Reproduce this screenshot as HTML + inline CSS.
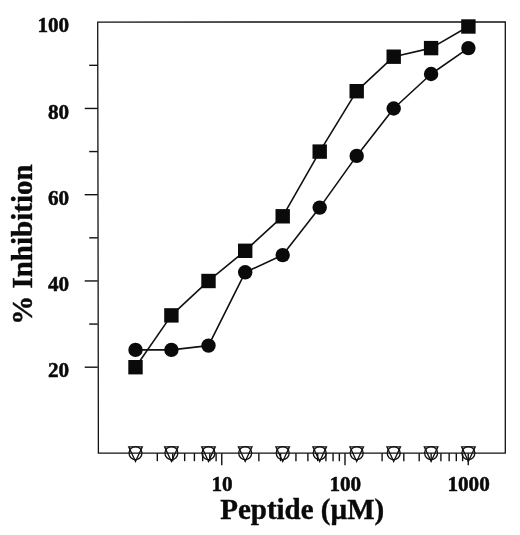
<!DOCTYPE html><html><head><meta charset="utf-8"><title>Peptide inhibition</title>
<style>html,body{margin:0;padding:0;background:#fff}svg{display:block}text{font-family:"Liberation Serif",serif;font-weight:bold;fill:#0a0a0a}</style></head><body>
<svg width="520" height="535" viewBox="0 0 520 535">
<rect width="520" height="535" fill="#fff"/>
<g stroke="#111" stroke-width="1.4" fill="none" stroke-linecap="butt">
<path d="M97.7 22.1 L505.3 21.8 L505.3 453.2 L98.4 453.2 Z" stroke-width="1.3"/>
<path d="M84.70 367.20 H97.7"/>
<path d="M89.20 324.07 H97.7"/>
<path d="M84.70 280.95 H97.7"/>
<path d="M89.20 237.82 H97.7"/>
<path d="M84.70 194.70 H97.7"/>
<path d="M89.20 151.57 H97.7"/>
<path d="M84.70 108.45 H97.7"/>
<path d="M89.20 65.33 H97.7"/>
<path d="M157.31 453.2 V461.2"/>
<path d="M172.70 453.2 V461.2"/>
<path d="M184.65 453.2 V461.2"/>
<path d="M194.41 453.2 V461.2"/>
<path d="M202.66 453.2 V461.2"/>
<path d="M209.81 453.2 V461.2"/>
<path d="M216.11 453.2 V461.2"/>
<path d="M258.85 453.2 V461.2"/>
<path d="M280.56 453.2 V461.2"/>
<path d="M295.95 453.2 V461.2"/>
<path d="M307.90 453.2 V461.2"/>
<path d="M317.66 453.2 V461.2"/>
<path d="M325.91 453.2 V461.2"/>
<path d="M333.06 453.2 V461.2"/>
<path d="M339.36 453.2 V461.2"/>
<path d="M382.10 453.2 V461.2"/>
<path d="M403.81 453.2 V461.2"/>
<path d="M419.20 453.2 V461.2"/>
<path d="M431.15 453.2 V461.2"/>
<path d="M440.91 453.2 V461.2"/>
<path d="M449.16 453.2 V461.2"/>
<path d="M456.31 453.2 V461.2"/>
<path d="M462.61 453.2 V461.2"/>
<path d="M221.75 453.2 V465.2"/>
<path d="M345.00 453.2 V465.2"/>
<path d="M468.25 453.2 V465.2"/>
<polyline stroke-width="1.6" stroke-linejoin="round" points="135.5,367.2 171.4,315.4 208.5,280.9 245.2,250.8 282.7,216.3 319.7,151.6 356.7,91.2 393.7,56.7 431.1,48.1 468.4,26.5"/>
<polyline stroke-width="1.6" stroke-linejoin="round" points="135.5,349.9 171.4,349.9 208.5,345.6 245.2,272.3 282.7,255.1 319.7,207.6 356.7,155.9 393.7,108.5 431.1,74.0 468.4,48.1"/>
<circle cx="135.5" cy="453.1" r="6.5" stroke-width="1.3"/>
<path d="M128.7 446.8 H142.3 L135.5 461.4 Z" stroke-width="1.3" stroke-linejoin="miter"/>
<circle cx="171.4" cy="453.1" r="6.5" stroke-width="1.3"/>
<path d="M164.6 446.8 H178.2 L171.4 461.4 Z" stroke-width="1.3" stroke-linejoin="miter"/>
<circle cx="208.5" cy="453.1" r="6.5" stroke-width="1.3"/>
<path d="M201.7 446.8 H215.3 L208.5 461.4 Z" stroke-width="1.3" stroke-linejoin="miter"/>
<circle cx="245.2" cy="453.1" r="6.5" stroke-width="1.3"/>
<path d="M238.4 446.8 H252.0 L245.2 461.4 Z" stroke-width="1.3" stroke-linejoin="miter"/>
<circle cx="282.7" cy="453.1" r="6.5" stroke-width="1.3"/>
<path d="M275.9 446.8 H289.5 L282.7 461.4 Z" stroke-width="1.3" stroke-linejoin="miter"/>
<circle cx="319.7" cy="453.1" r="6.5" stroke-width="1.3"/>
<path d="M312.9 446.8 H326.5 L319.7 461.4 Z" stroke-width="1.3" stroke-linejoin="miter"/>
<circle cx="356.7" cy="453.1" r="6.5" stroke-width="1.3"/>
<path d="M349.9 446.8 H363.5 L356.7 461.4 Z" stroke-width="1.3" stroke-linejoin="miter"/>
<circle cx="393.7" cy="453.1" r="6.5" stroke-width="1.3"/>
<path d="M386.9 446.8 H400.5 L393.7 461.4 Z" stroke-width="1.3" stroke-linejoin="miter"/>
<circle cx="431.1" cy="453.1" r="6.5" stroke-width="1.3"/>
<path d="M424.3 446.8 H437.9 L431.1 461.4 Z" stroke-width="1.3" stroke-linejoin="miter"/>
<circle cx="468.4" cy="453.1" r="6.5" stroke-width="1.3"/>
<path d="M461.6 446.8 H475.2 L468.4 461.4 Z" stroke-width="1.3" stroke-linejoin="miter"/>
</g>
<g fill="#0a0a0a">
<rect x="128.3" y="360.0" width="14.4" height="14.4"/>
<rect x="164.2" y="308.2" width="14.4" height="14.4"/>
<rect x="201.3" y="273.8" width="14.4" height="14.4"/>
<rect x="238.0" y="243.6" width="14.4" height="14.4"/>
<rect x="275.5" y="209.1" width="14.4" height="14.4"/>
<rect x="312.5" y="144.4" width="14.4" height="14.4"/>
<rect x="349.5" y="84.0" width="14.4" height="14.4"/>
<rect x="386.5" y="49.5" width="14.4" height="14.4"/>
<rect x="423.9" y="40.9" width="14.4" height="14.4"/>
<rect x="461.2" y="19.3" width="14.4" height="14.4"/>
<circle cx="135.5" cy="349.9" r="7.2"/>
<circle cx="171.4" cy="349.9" r="7.2"/>
<circle cx="208.5" cy="345.6" r="7.2"/>
<circle cx="245.2" cy="272.3" r="7.2"/>
<circle cx="282.7" cy="255.1" r="7.2"/>
<circle cx="319.7" cy="207.6" r="7.2"/>
<circle cx="356.7" cy="155.9" r="7.2"/>
<circle cx="393.7" cy="108.5" r="7.2"/>
<circle cx="431.1" cy="74.0" r="7.2"/>
<circle cx="468.4" cy="48.1" r="7.2"/>
</g>
<text x="69.2" y="377.2" font-size="21.2" text-anchor="end" stroke="#0a0a0a" stroke-width="0.5">20</text>
<text x="69.2" y="290.9" font-size="21.2" text-anchor="end" stroke="#0a0a0a" stroke-width="0.5">40</text>
<text x="69.2" y="204.7" font-size="21.2" text-anchor="end" stroke="#0a0a0a" stroke-width="0.5">60</text>
<text x="69.2" y="118.5" font-size="21.2" text-anchor="end" stroke="#0a0a0a" stroke-width="0.5">80</text>
<text x="69.2" y="32.2" font-size="21.2" text-anchor="end" stroke="#0a0a0a" stroke-width="0.5">100</text>
<text x="222.1" y="490.7" font-size="21.2" text-anchor="middle" stroke="#0a0a0a" stroke-width="0.5">10</text>
<text x="345.3" y="490.7" font-size="21.2" text-anchor="middle" stroke="#0a0a0a" stroke-width="0.5">100</text>
<text x="468.6" y="490.7" font-size="21.2" text-anchor="middle" stroke="#0a0a0a" stroke-width="0.5">1000</text>
<text x="220.2" y="518.7" font-size="29" stroke="#0a0a0a" stroke-width="0.4">Peptide (µM)</text>
<text transform="translate(32.4 324.8) rotate(-90)" font-size="29" stroke="#0a0a0a" stroke-width="0.4">% Inhibition</text>
</svg></body></html>
